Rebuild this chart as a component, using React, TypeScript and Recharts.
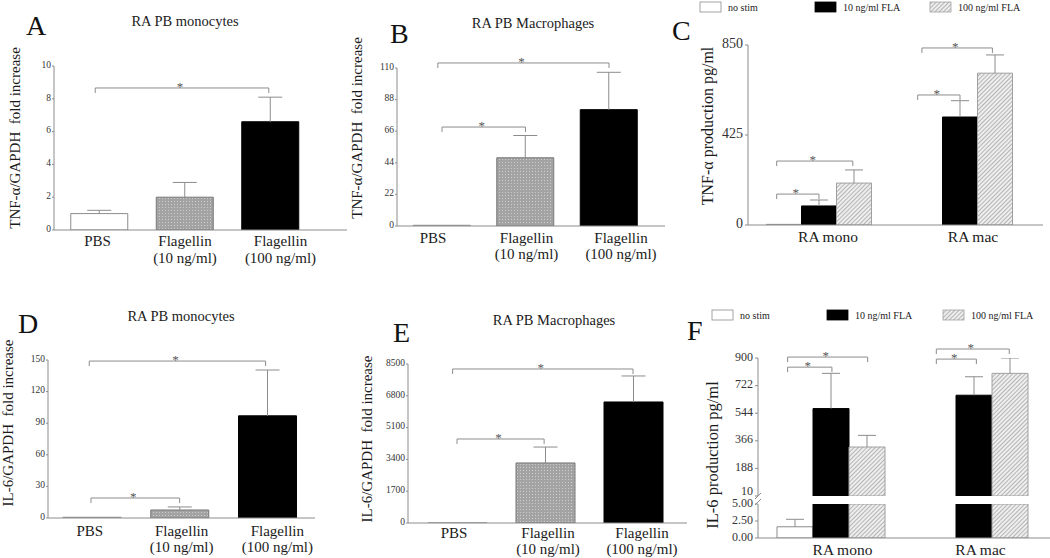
import React from "react";
import { BarChart, Bar, XAxis, YAxis, Cell, ReferenceLine } from "recharts";

const FONT = "'Liberation Serif', 'Times New Roman', Times, serif";
const AXIS = "#8c8c8c";
const INK = "#1b1b1b";

// ---- panels A, B, D, E: fold increase over GAPDH ----
const treatments = ["PBS", "Flagellin|(10 ng/ml)", "Flagellin|(100 ng/ml)"];
const treatmentFill = ["#ffffff", "url(#dots)", "#000000"];
const treatmentStroke = ["#8c8c8c", "#777777", "#000000"];

const tnfMonoMean = [1.0, 2.0, 6.6];
const tnfMonoTop = [1.2, 2.9, 8.1];
const tnfMacMean = [0.5, 47.5, 81];
const tnfMacTop = [0.5, 63, 107];
const il6MonoMean = [0.7, 7.6, 97];
const il6MonoTop = [0.7, 10.5, 140.5];
const il6MacMean = [1, 3210, 6470];
const il6MacTop = [1, 4060, 7860];

const ticksA = [0, 2, 4, 6, 8, 10];
const ticksB = [0, 22, 44, 66, 88, 110];
const ticksD = [0, 30, 60, 90, 120, 150];
const ticksE = [0, 1700, 3400, 5100, 6800, 8500];

// ---- panels C, F: protein production ----
const cellTypes = ["RA mono", "RA mac"];
const stimNames = ["no stim", "10 ng/ml FLA", "100 ng/ml FLA"];
const stimFill = ["#ffffff", "#000000", "url(#hatch)"];
const stimStroke = ["#8c8c8c", "#000000", "#a0a0a0"];

const tnfNoStim = [3, 0];
const tnfNoStimTop = [3, 0];
const tnf10 = [90, 510];
const tnf10Top = [118, 587];
const tnf100 = [198, 717];
const tnf100Top = [260, 803];

const il6NoStim = [1.65, 0];
const il6NoStimTop = [2.75, 0];
const il6Fla10 = [574, 660];
const il6Fla10Top = [801, 779];
const il6Fla100 = [326, 801];
const il6Fla100Top = [401, 902];

const ticksC = [0, 425, 850];
const ticksFHigh = [10, 188, 366, 544, 722, 900];
const ticksFLow = [0, 2.5, 5];

// significance brackets, ends in category units (0 = centre of first category)
type Sig = { from: number; to: number; y: number };
const sigA: Sig[] = [{ from: -0.05, to: 1.98, y: 8.66 }];
const sigB: Sig[] = [
  { from: -0.05, to: 2.0, y: 113.5 },
  { from: 0, to: 1.0, y: 68.9 },
];
const sigC: Sig[] = [
  { from: -0.3, to: 0, y: 146 },
  { from: -0.3, to: 0.24, y: 302 },
  { from: 0.7, to: 1.0, y: 614 },
  { from: 0.73, to: 1.23, y: 836 },
];
const sigD: Sig[] = [
  { from: -0.03, to: 1.98, y: 149 },
  { from: -0.01, to: 1.0, y: 19 },
];
const sigE: Sig[] = [
  { from: -0.05, to: 2.0, y: 8233 },
  { from: 0, to: 0.99, y: 4491 },
];
const sigF: Sig[] = [
  { from: -0.3, to: 0.01, y: 841 },
  { from: -0.3, to: 0.26, y: 906 },
  { from: 0.74, to: 1.02, y: 893 },
  { from: 0.74, to: 1.25, y: 958 },
];

// bracket drawn on a ReferenceLine segment between two category centres,
// shifted by fractions of the category band
const bracketShape = (d1: number, d2: number) => (props: any) => {
  const x1 = props.x1 + d1;
  const x2 = props.x2 + d2;
  const y = props.y1;
  return (
    <g>
      <path
        d={`M${x1},${y + 5}V${y}H${x2}V${y + 5}`}
        fill="none"
        stroke="#8c8c8c"
        strokeWidth={1}
      />
      <text
        x={(x1 + x2) / 2 - 2}
        y={y + 3}
        textAnchor="middle"
        style={{ fontFamily: FONT }}
        fontSize={13}
        fill="#555"
      >
        *
      </text>
    </g>
  );
};

function sigLines(sig: Sig[], cats: string[], bandW: number) {
  return sig.map((s, i) => {
    const a = Math.round(s.from);
    const b = Math.round(s.to);
    return (
      <ReferenceLine
        key={i}
        segment={[
          { x: cats[a], y: s.y },
          { x: cats[b], y: s.y },
        ]}
        ifOverflow="visible"
        shape={bracketShape((s.from - a) * bandW, (s.to - b) * bandW)}
      />
    );
  });
}

const whisker = (cap: number) => (props: any) => {
  const { x, y, width, height } = props;
  if (!(height > 0)) return <g />;
  const cx = x + width / 2;
  return (
    <path
      d={`M${cx},${y + height}V${y}M${cx - cap},${y}H${cx + cap}`}
      fill="none"
      stroke="#8c8c8c"
      strokeWidth={1}
    />
  );
};

const CatTick = (props: any) => {
  const { x, y, payload, index, size, d1, d2, shifts } = props;
  const [a, b] = String(payload.value).split("|");
  const cx = x + ((shifts && shifts[index]) || 0);
  return (
    <text
      x={cx}
      y={y}
      textAnchor="middle"
      style={{ fontFamily: FONT }}
      fontSize={size}
      fill={INK}
    >
      <tspan x={cx} dy={d1}>
        {a}
      </tspan>
      {b ? (
        <tspan x={cx} dy={d2 - d1}>
          {b}
        </tspan>
      ) : null}
    </text>
  );
};

const NumTick = (props: any) => {
  const { x, y, payload, size, fmt, liftMin } = props;
  const v = payload.value as number;
  const lift = liftMin !== undefined && v === liftMin ? -4 : 0;
  return (
    <text
      x={x}
      y={y}
      dy={size * 0.3 - 1 + lift}
      textAnchor="end"
      style={{ fontFamily: FONT }}
      fontSize={size}
      fill="#333"
    >
      {fmt ? fmt(v) : String(v)}
    </text>
  );
};

type Layout = {
  left: number;
  top: number;
  width: number;
  height: number;
  yWidth: number;
  mTop: number;
  mBottom?: number;
  xHeight: number;
  padL: number;
  padR: number;
  barSize: number;
  line1: number;
  line2: number;
  shifts: number[];
};

const bandOf = (lay: Layout, n: number) =>
  (lay.width - lay.yWidth - lay.padL - lay.padR) / n;

function FoldPanel(p: {
  lay: Layout;
  mean: number[];
  upper: number[];
  domain: [number, number];
  ticks: number[];
  sig: Sig[];
}) {
  const { lay } = p;
  const rows = treatments.map((t, i) => ({
    cat: t,
    mean: p.mean[i],
    err: p.upper[i] - p.mean[i],
  }));
  return (
    <div style={{ position: "absolute", left: lay.left, top: lay.top }}>
      <BarChart
        width={lay.width}
        height={lay.height}
        data={rows}
        margin={{ top: lay.mTop, right: 0, bottom: lay.mBottom || 0, left: 0 }}
        barGap={0}
      >
        <XAxis
          dataKey="cat"
          height={lay.xHeight}
          padding={{ left: lay.padL, right: lay.padR }}
          stroke={AXIS}
          tickLine={false}
          tickSize={0}
          tickMargin={0}
          interval={0}
          tick={<CatTick size={15} d1={lay.line1} d2={lay.line2} shifts={lay.shifts} />}
        />
        <YAxis
          width={lay.yWidth}
          domain={p.domain}
          ticks={p.ticks}
          interval={0}
          stroke={AXIS}
          tickSize={2}
          tickMargin={1}
          tick={<NumTick size={9.5} />}
          allowDataOverflow
        />
        <Bar dataKey="mean" stackId="s" barSize={lay.barSize} isAnimationActive={false}>
          {rows.map((r, i) => (
            <Cell key={r.cat} fill={treatmentFill[i]} stroke={treatmentStroke[i]} />
          ))}
        </Bar>
        <Bar
          dataKey="err"
          stackId="s"
          barSize={lay.barSize}
          isAnimationActive={false}
          shape={whisker(12)}
        />
        {sigLines(p.sig, treatments, bandOf(lay, treatments.length))}
      </BarChart>
    </div>
  );
}

function ElisaPanel(p: {
  lay: Layout;
  series: number[][];
  tops: number[][];
  domain: [number, number];
  ticks: number[];
  sig: Sig[];
  showX: boolean;
  tickFont: number;
  fmt?: (v: number) => string;
  liftMin?: number;
}) {
  const { lay } = p;
  const rows = cellTypes.map((c, i) => {
    const r: any = { cat: c };
    p.series.forEach((s, j) => {
      r[`m${j}`] = s[i];
      r[`e${j}`] = p.tops[j][i] - s[i];
    });
    return r;
  });
  const bars: React.ReactNode[] = [];
  stimNames.forEach((name, j) => {
    bars.push(
      <Bar
        key={`m${j}`}
        name={name}
        dataKey={`m${j}`}
        stackId={`g${j}`}
        fill={stimFill[j]}
        stroke={stimStroke[j]}
        barSize={lay.barSize}
        isAnimationActive={false}
      />
    );
    bars.push(
      <Bar
        key={`e${j}`}
        dataKey={`e${j}`}
        stackId={`g${j}`}
        barSize={lay.barSize}
        isAnimationActive={false}
        shape={whisker(9)}
      />
    );
  });
  return (
    <div style={{ position: "absolute", left: lay.left, top: lay.top }}>
      <BarChart
        width={lay.width}
        height={lay.height}
        data={rows}
        margin={{ top: lay.mTop, right: 0, bottom: lay.mBottom || 0, left: 0 }}
        barGap={0}
      >
        <XAxis
          dataKey="cat"
          height={lay.xHeight}
          padding={{ left: lay.padL, right: lay.padR }}
          stroke={AXIS}
          tickLine={false}
          tickSize={0}
          tickMargin={0}
          interval={0}
          hide={!p.showX}
          tick={<CatTick size={15.5} d1={lay.line1} d2={lay.line2} shifts={lay.shifts} />}
        />
        <YAxis
          width={lay.yWidth}
          domain={p.domain}
          ticks={p.ticks}
          interval={0}
          stroke={AXIS}
          tickSize={3}
          tickMargin={2}
          tick={<NumTick size={p.tickFont} fmt={p.fmt} liftMin={p.liftMin} />}
          allowDataOverflow
        />
        {bars}
        {sigLines(p.sig, cellTypes, bandOf(lay, cellTypes.length))}
      </BarChart>
    </div>
  );
}

const letters = [
  { t: "A", x: 26, y: 35 },
  { t: "B", x: 390, y: 43 },
  { t: "C", x: 672, y: 40 },
  { t: "D", x: 18, y: 333 },
  { t: "E", x: 393, y: 342 },
  { t: "F", x: 687, y: 340 },
];
const titles = [
  { t: "RA PB monocytes", x: 185, y: 26 },
  { t: "RA PB Macrophages", x: 533, y: 28 },
  { t: "RA PB monocytes", x: 181, y: 321 },
  { t: "RA PB Macrophages", x: 554, y: 325 },
];
const yLabels = [
  { t: "TNF-\u03b1/GAPDH  fold increase", x: 15, y: 138, s: 15 },
  { t: "TNF-\u03b1/GAPDH  fold increase", x: 357, y: 128, s: 15 },
  { t: "TNF-\u03b1 production pg/ml", x: 707, y: 126, s: 16 },
  { t: "IL-6/GAPDH  fold increase", x: 8, y: 423, s: 15 },
  { t: "IL-6/GAPDH  fold increase", x: 367, y: 439, s: 15 },
  { t: "IL-6 production pg/ml", x: 712, y: 455, s: 16.5 },
];
const legends = [
  { y: 2, xs: [700, 815, 930] },
  { y: 310, xs: [712, 827, 943] },
];

function Overlay() {
  return (
    <svg
      width={1050}
      height={558}
      style={{ position: "absolute", left: 0, top: 0, pointerEvents: "none" }}
    >
      <defs>
        <pattern id="dots" width="3" height="3" patternUnits="userSpaceOnUse">
          <rect width="3" height="3" fill="#a3a3a3" />
          <rect width="1" height="1" fill="#cdcdcd" />
        </pattern>
        <pattern
          id="hatch"
          width="3"
          height="3"
          patternUnits="userSpaceOnUse"
          patternTransform="rotate(45)"
        >
          <rect width="3" height="3" fill="#eeeeee" />
          <line x1="0.5" y1="0" x2="0.5" y2="3" stroke="#b4b4b4" strokeWidth="1" />
        </pattern>
      </defs>
      {letters.map((l) => (
        <text key={l.t} x={l.x} y={l.y} style={{ fontFamily: FONT }} fontSize={28} fill="#111">
          {l.t}
        </text>
      ))}
      {titles.map((l, i) => (
        <text
          key={i}
          x={l.x}
          y={l.y}
          textAnchor="middle"
          style={{ fontFamily: FONT }}
          fontSize={14.5}
          fill={INK}
        >
          {l.t}
        </text>
      ))}
      {yLabels.map((l, i) => (
        <text
          key={i}
          transform={`translate(${l.x},${l.y}) rotate(-90)`}
          textAnchor="middle"
          dominantBaseline="central"
          fontSize={l.s}
          fill={INK}
          style={{ whiteSpace: "pre", fontFamily: FONT }}
        >
          {l.t}
        </text>
      ))}
      {legends.map((lg, k) =>
        lg.xs.map((x, j) => (
          <g key={`${k}-${j}`}>
            <rect
              x={x}
              y={lg.y}
              width={21}
              height={10}
              fill={stimFill[j]}
              stroke={stimStroke[j]}
              strokeWidth={0.8}
            />
            <text x={x + 28} y={lg.y + 9} style={{ fontFamily: FONT }} fontSize={10} fill={INK}>
              {stimNames[j]}
            </text>
          </g>
        ))
      )}
      <path d="M755,499L761,493M755,505L761,499" stroke={AXIS} strokeWidth={1} fill="none" />
    </svg>
  );
}

export default function App() {
  return (
    <div
      style={{
        position: "absolute",
        left: 0,
        top: 0,
        width: 1050,
        height: 558,
        background: "#fff",
        fontFamily: FONT,
        overflow: "hidden",
      }}
    >
      <FoldPanel
        lay={{ left: 0, top: 0, width: 347, height: 280, yWidth: 54, mTop: 66, xHeight: 50, padL: 2.75, padR: 33.75, barSize: 57, line1: 16, line2: 33, shifts: [-2, 0, 10] }}
        mean={tnfMonoMean}
        upper={tnfMonoTop}
        domain={[0, 10]}
        ticks={ticksA}
        sig={sigA}
      />
      <FoldPanel
        lay={{ left: 340, top: 0, width: 325, height: 276, yWidth: 57, mTop: 68, xHeight: 50, padL: 3.25, padR: 14.25, barSize: 57, line1: 17, line2: 33, shifts: [-9, 1, 12] }}
        mean={tnfMacMean}
        upper={tnfMacTop}
        domain={[0, 110]}
        ticks={ticksB}
        sig={sigB}
      />
      <ElisaPanel
        lay={{ left: 680, top: 0, width: 363, height: 265, yWidth: 68, mTop: 45, xHeight: 40, padL: 0.5, padR: 12.5, barSize: 35, line1: 17, line2: 17, shifts: [9, 13] }}
        series={[tnfNoStim, tnf10, tnf100]}
        tops={[tnfNoStimTop, tnf10Top, tnf100Top]}
        domain={[0, 850]}
        ticks={ticksC}
        sig={sigC}
        showX
        tickFont={14}
      />
      <FoldPanel
        lay={{ left: 0, top: 290, width: 315, height: 268, yWidth: 48, mTop: 70, xHeight: 40, padL: 0, padR: 3.75, barSize: 58, line1: 18, line2: 34, shifts: [-2, 2, 10] }}
        mean={il6MonoMean}
        upper={il6MonoTop}
        domain={[0, 150]}
        ticks={ticksD}
        sig={sigD}
      />
      <FoldPanel
        lay={{ left: 340, top: 290, width: 347, height: 268, yWidth: 68, mTop: 74, xHeight: 35, padL: 5, padR: 10, barSize: 59, line1: 15, line2: 31, shifts: [-3, 3, 9] }}
        mean={il6MacMean}
        upper={il6MacTop}
        domain={[0, 8500]}
        ticks={ticksE}
        sig={sigE}
      />
      <ElisaPanel
        lay={{ left: 680, top: 290, width: 370, height: 214, yWidth: 78, mTop: 68, mBottom: 8, xHeight: 0, padL: 1, padR: 5, barSize: 36, line1: 17, line2: 17, shifts: [12, 7] }}
        series={[il6NoStim, il6Fla10, il6Fla100]}
        tops={[il6NoStimTop, il6Fla10Top, il6Fla100Top]}
        domain={[10, 900]}
        ticks={ticksFHigh}
        sig={sigF}
        showX={false}
        tickFont={12}
        liftMin={10}
      />
      <ElisaPanel
        lay={{ left: 680, top: 496, width: 370, height: 62, yWidth: 78, mTop: 8, xHeight: 20, padL: 1, padR: 5, barSize: 36, line1: 17, line2: 17, shifts: [12, 7] }}
        series={[il6NoStim, il6Fla10, il6Fla100]}
        tops={[il6NoStimTop, il6Fla10Top, il6Fla100Top]}
        domain={[0, 5]}
        ticks={ticksFLow}
        sig={[]}
        showX
        tickFont={12}
        fmt={(v: number) => v.toFixed(2)}
      />
      <Overlay />
    </div>
  );
}
